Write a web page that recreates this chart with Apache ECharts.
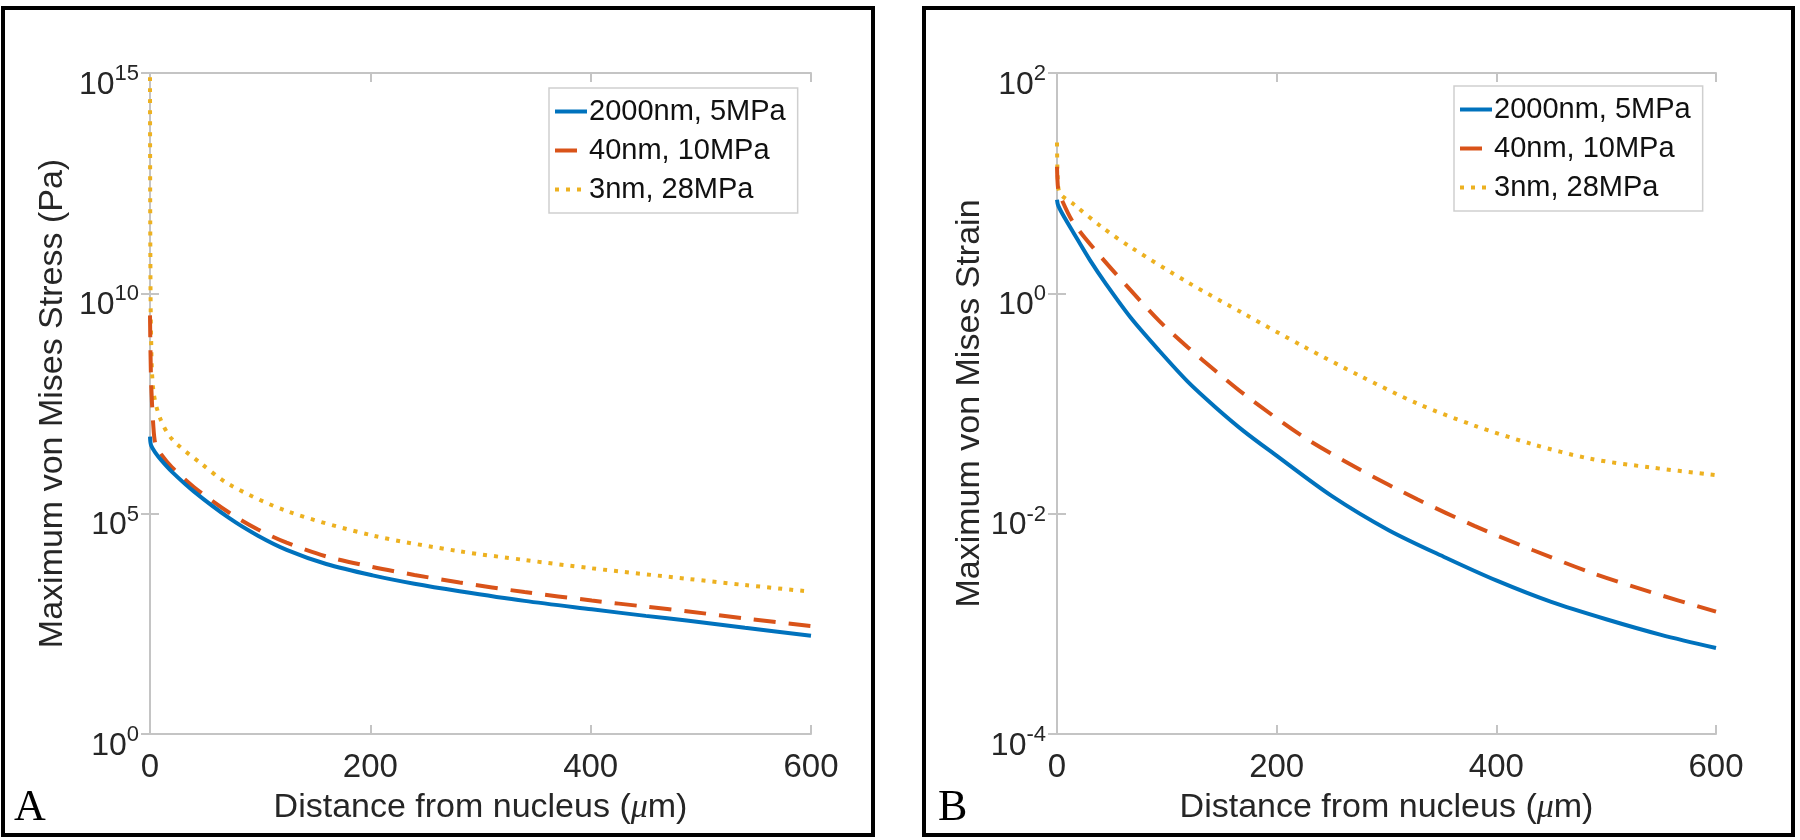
<!DOCTYPE html>
<html lang="en">
<head>
<meta charset="UTF-8">
<title>von Mises stress and strain</title>
<script src="https://cdn.jsdelivr.net/npm/echarts@6/dist/echarts.min.js"></script>
<style>
  html, body { margin: 0; padding: 0; background: #fff; }
  #chart { width: 1800px; height: 840px; }
</style>
</head>
<body>
<div id="chart"></div>
<script>
// legend names
const seriesNames = ['2000nm, 5MPa', '40nm, 10MPa', '3nm, 28MPa'];

// panel A: maximum von Mises stress (Pa)
const stressBlueX = [0, 1, 5, 10, 20, 40, 72, 98, 124, 160, 202, 240, 281, 340, 401, 450, 489, 540, 600];
const stressBlueY = [5.62e6, 3.55e6, 2.4e6, 1.66e6, 8.9e5, 3.16e5, 7.9e4, 3.16e4, 1.51e4, 7.2e3, 3.98e3, 2.57e3, 1.74e3, 1.05e3, 676, 479, 372, 257, 170];
const stressRedX = [0, 1, 3, 5, 10, 20, 40, 72, 98, 124, 160, 202, 240, 281, 340, 401, 450, 489, 540, 600];
const stressRedY = [3.16e9, 1e8, 1e7, 3.72e6, 2.24e6, 1.12e6, 3.98e5, 1.05e5, 4.37e4, 2.19e4, 1.07e4, 6.17e3, 4.07e3, 2.75e3, 1.66e3, 1.07e3, 776, 603, 417, 282];
const stressYellowX = [0, 0.3, 1, 3, 9, 20, 46, 72, 124, 202, 281, 340, 401, 489, 540, 600];
const stressYellowY = [8e14, 1e11, 1e9, 6.3e7, 1.5e7, 4.9e6, 1.4e6, 4.6e5, 1.15e5, 3.2e4, 1.4e4, 8.9e3, 5.75e3, 3.3e3, 2.4e3, 1.7e3];

// panel B: maximum von Mises strain
const strainBlueX = [0, 1, 5, 15, 30, 45, 67, 93, 119, 145, 170, 198, 250, 302, 354, 401, 450, 500, 550, 600];
const strainBlueY = [7.08, 6.31, 5.25, 3.55, 2.0, 1.2, 0.603, 0.302, 0.158, 0.0912, 0.0562, 0.0347, 0.0145, 0.00708, 0.00398, 0.00245, 0.00158, 0.0011, 0.000794, 0.000603];
const strainRedX = [0, 1, 3, 15, 41, 67, 93, 119, 145, 171, 224, 276, 328, 380, 433, 485, 540, 600];
const strainRedY = [14.1, 8.91, 7.59, 4.37, 2.09, 1.07, 0.562, 0.324, 0.195, 0.12, 0.0501, 0.0251, 0.0135, 0.00776, 0.00468, 0.00295, 0.00195, 0.00129];
const strainYellowX = [0, 0.5, 2, 15, 41, 67, 119, 171, 224, 276, 328, 380, 433, 485, 540, 600];
const strainYellowY = [23.4, 12.6, 8.32, 6.46, 3.98, 2.63, 1.26, 0.646, 0.331, 0.178, 0.1, 0.0631, 0.0427, 0.0316, 0.0263, 0.0224];

const colors = ['#0072BD', '#D95319', '#EDB120'];
const lineTypes = ['solid', [22, 13], [4, 7]];
const lineWidths = [4, 4, 4];
const axisGrey = '#c4c4c4';
const textGrey = '#262626';

function pairs(xs, ys) {
    return xs.map((x, i) => [x, ys[i]]);
}

const myChart = echarts.init(document.getElementById('chart'));

function xAxes(gridIndex) {
    return [
        {
            type: 'value', gridIndex: gridIndex, position: 'bottom',
            min: 0, max: 600, interval: 200,
            name: '{n|Distance from nucleus (}{i|μ}{n|m)}',
            nameLocation: 'middle', nameGap: 57,
            nameTextStyle: {
                rich: {
                    n: { fontSize: 34, color: textGrey, fontFamily: 'Liberation Sans' },
                    i: { fontSize: 34, color: textGrey, fontFamily: 'Liberation Serif', fontStyle: 'italic' }
                }
            },
            axisLine: { show: true, lineStyle: { color: axisGrey, width: 2 } },
            axisTick: { show: true, inside: true, length: 9, lineStyle: { color: axisGrey, width: 2 } },
            axisLabel: { margin: 17, fontSize: 33, color: textGrey, fontFamily: 'Liberation Sans' },
            splitLine: { show: false }
        },
        {
            type: 'value', gridIndex: gridIndex, position: 'top',
            min: 0, max: 600, interval: 200,
            axisLine: { show: true, lineStyle: { color: axisGrey, width: 2 } },
            axisTick: { show: true, inside: true, length: 9, lineStyle: { color: axisGrey, width: 2 } },
            axisLabel: { show: false },
            splitLine: { show: false }
        }
    ];
}

function yAxes(gridIndex, min, max, interval, name, gap) {
    return [
        {
            type: 'log', logBase: 10, gridIndex: gridIndex, position: 'left',
            min: min, max: max, interval: interval,
            name: name, nameLocation: 'middle', nameGap: gap,
            nameTextStyle: { fontSize: 34, color: textGrey, fontFamily: 'Liberation Sans' },
            axisLine: { show: true, lineStyle: { color: axisGrey, width: 2 } },
            axisTick: { show: true, inside: true, length: 9, lineStyle: { color: axisGrey, width: 2 } },
            axisLabel: {
                margin: 11,
                padding: [18, 0, 0, 0],
                formatter: function (v) {
                    const e = Math.round(Math.log10(v));
                    return '{b|10}{s|' + e + '}';
                },
                rich: {
                    b: { fontSize: 32, lineHeight: 38, verticalAlign: 'bottom', color: textGrey, fontFamily: 'Liberation Sans' },
                    s: { fontSize: 22, lineHeight: 12, verticalAlign: 'top', color: textGrey, fontFamily: 'Liberation Sans' }
                }
            },
            splitLine: { show: false }
        },
        {
            type: 'log', logBase: 10, gridIndex: gridIndex, position: 'right',
            min: min, max: max, interval: interval,
            axisLine: { show: true, lineStyle: { color: axisGrey, width: 2 } },
            axisTick: { show: true, inside: true, length: 9, lineStyle: { color: axisGrey, width: 2 } },
            axisLabel: { show: false },
            splitLine: { show: false }
        }
    ];
}

function makeSeries(k, xIndex, yIndex, data) {
    return {
        name: seriesNames[k],
        type: 'line',
        xAxisIndex: xIndex,
        yAxisIndex: yIndex,
        data: data,
        showSymbol: false,
        symbol: 'none',
        smooth: 0.3,
        z: 5 - k,
        lineStyle: { color: colors[k], width: lineWidths[k], type: lineTypes[k], cap: 'butt' },
        itemStyle: { color: colors[k] },
        emphasis: { disabled: true }
    };
}

function legendAt(left, top) {
    return {
        orient: 'vertical',
        left: left, top: top,
        data: seriesNames,
        padding: [9, 12, 9, 4],
        itemGap: 10,
        itemWidth: 32,
        itemHeight: 8,
        itemStyle: { opacity: 0 },
        lineStyle: { width: 4 },
        backgroundColor: '#fff',
        borderColor: '#cfcfcf',
        borderWidth: 1.5,
        borderRadius: 0,
        selectedMode: false,
        textStyle: { fontSize: 29, lineHeight: 29, color: '#111', fontFamily: 'Liberation Sans', padding: [0, 0, 0, -3] }
    };
}

const option = {
    backgroundColor: '#fff',
    animation: false,
    grid: [
        { left: 150, top: 73, width: 661, height: 661 },
        { left: 1057, top: 73, width: 659, height: 661 }
    ],
    xAxis: xAxes(0).concat(xAxes(1)),
    yAxis: yAxes(0, 1, 1e15, 5, 'Maximum von Mises Stress (Pa)', 80)
        .concat(yAxes(1, 1e-4, 1e2, 2, 'Maximum von Mises Strain', 70)),
    legend: [legendAt(549, 88), legendAt(1454, 86)],
    series: [
        makeSeries(0, 0, 0, pairs(stressBlueX, stressBlueY)),
        makeSeries(1, 0, 0, pairs(stressRedX, stressRedY)),
        makeSeries(2, 0, 0, pairs(stressYellowX, stressYellowY)),
        makeSeries(0, 2, 2, pairs(strainBlueX, strainBlueY)),
        makeSeries(1, 2, 2, pairs(strainRedX, strainRedY)),
        makeSeries(2, 2, 2, pairs(strainYellowX, strainYellowY))
    ],
    graphic: [
        { type: 'rect', shape: { x: 3, y: 8, width: 870, height: 827 }, style: { fill: 'none', stroke: '#000', lineWidth: 4 }, silent: true },
        { type: 'rect', shape: { x: 924, y: 8, width: 869, height: 827 }, style: { fill: 'none', stroke: '#000', lineWidth: 4 }, silent: true },
        { type: 'text', left: 14, top: 786, style: { text: 'A', fontSize: 44, fontFamily: 'Liberation Serif', fill: '#000' } },
        { type: 'text', left: 938, top: 786, style: { text: 'B', fontSize: 44, fontFamily: 'Liberation Serif', fill: '#000' } }
    ]
};

myChart.setOption(option);
</script>
</body>
</html>
